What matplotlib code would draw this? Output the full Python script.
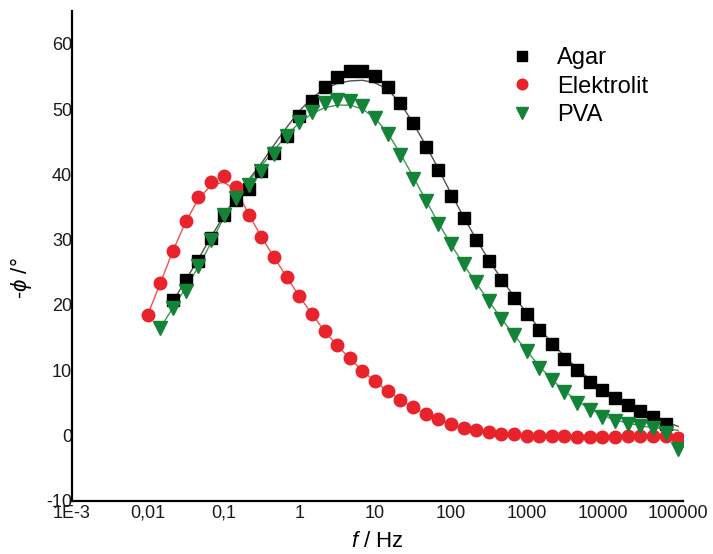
import numpy as np
import matplotlib.pyplot as plt

plt.rcParams['font.family'] = ['Liberation Sans', 'DejaVu Sans']
plt.rcParams['mathtext.fontset'] = 'custom'
plt.rcParams['mathtext.rm'] = 'Liberation Sans'
plt.rcParams['mathtext.it'] = 'Liberation Sans:italic'
plt.rcParams['axes.unicode_minus'] = False

# frequencies, 6 points per decade, 0.01 Hz .. 100 kHz
freq = [0.01, 0.0147, 0.0215, 0.0316, 0.0464, 0.0681,
        0.1, 0.147, 0.215, 0.316, 0.464, 0.681,
        1, 1.47, 2.15, 3.16, 4.64, 6.81,
        10, 14.7, 21.5, 31.6, 46.4, 68.1,
        100, 147, 215, 316, 464, 681,
        1000, 1470, 2150, 3160, 4640, 6810,
        10000, 14700, 21500, 31600, 46400, 68100,
        100000]

# Agar: idx 2..41 measured, fit 2..42
agar = [20.7, 23.8, 26.8, 30.2, 33.7, 36.0, 37.8, 40.5, 43.3, 45.9,
        48.9, 51.3, 53.4, 54.9, 55.8, 55.8, 55.1, 53.3, 50.9, 47.8,
        44.2, 40.6, 36.7, 33.3, 29.9, 26.7, 23.8, 21.1, 18.6, 16.1,
        14.0, 11.7, 10.0, 8.2, 6.9, 5.7, 4.6, 3.7, 2.9, 1.7]
agar_fit = [20.5, 23.8, 27.0, 30.4, 33.6, 36.6, 39.2, 41.7, 44.5, 47.2,
            49.7, 51.7, 53.1, 53.9, 54.3, 54.4, 54.0, 53.0, 50.9, 47.9,
            44.5, 40.9, 37.1, 33.5, 30.1, 26.9, 24.0, 21.3, 18.8, 16.4,
            14.2, 12.1, 10.3, 8.6, 7.2, 5.9, 4.8, 3.8, 2.9, 2.1, 1.4]

# Elektrolit: idx 0..42
elektrolit = [18.5, 23.4, 28.3, 32.9, 36.6, 38.9, 39.8, 38.0, 33.7, 30.4,
              27.3, 24.3, 21.3, 18.6, 16.0, 13.8, 11.8, 9.9, 8.3, 6.8,
              5.5, 4.3, 3.3, 2.5, 1.8, 1.1, 0.8, 0.5, 0.3, 0.2,
              -0.1, 0.0, 0.0, -0.1, -0.2, -0.3, -0.2, -0.2, -0.1, -0.1,
              -0.1, -0.1, -0.4]
elektrolit_fit = [18.5, 23.4, 28.3, 32.7, 36.2, 38.3, 38.8, 37.6, 33.9, 30.4,
                  27.3, 24.3, 21.3, 18.6, 16.0, 13.8, 11.8, 9.9, 8.3, 6.8,
                  5.5, 4.3, 3.3, 2.5, 1.8, 1.1, 0.8, 0.5, 0.3, 0.2,
                  0.0, 0.0, 0.0, -0.1, -0.2, -0.2, -0.2, -0.2, -0.1, -0.1,
                  -0.1, -0.1, -0.3]

# PVA: idx 1..42
pva = [16.4, 19.5, 22.1, 26.0, 29.9, 33.7, 36.3, 38.4, 40.5, 43.1,
       45.8, 48.0, 49.6, 50.9, 51.4, 51.3, 50.5, 48.7, 46.2, 42.9,
       39.3, 35.9, 32.4, 29.3, 26.2, 23.5, 20.6, 17.8, 15.4, 13.0,
       10.4, 8.5, 6.6, 5.0, 3.9, 2.8, 2.2, 1.8, 1.5, 1.2,
       0.4, -2.0]
pva_fit = [16.5, 19.6, 22.6, 25.8, 29.5, 33.3, 36.4, 38.9, 41.3, 43.7,
           46.0, 47.9, 49.3, 50.2, 50.6, 50.6, 50.0, 48.6, 46.3, 43.2,
           39.7, 36.1, 32.6, 29.3, 26.2, 23.4, 20.6, 17.9, 15.4, 13.0,
           10.6, 8.6, 6.8, 5.3, 4.1, 3.1, 2.4, 1.9, 1.5, 1.2,
           1.0, 0.8]

xticks = [1e-3, 1e-2, 1e-1, 1, 10, 100, 1000, 10000, 100000]
xticklabels = ['1E-3', '0,01', '0,1', '1', '10', '100', '1000', '10000', '100000']
yticks = [-10, 0, 10, 20, 30, 40, 50, 60]

red = '#e8232b'
green = '#138437'

fig = plt.figure(figsize=(7.13, 5.54), dpi=100)
ax = fig.add_axes([0.101, 0.096, 0.857, 0.884])

f = np.array(freq)
# fit lines
ax.plot(f[2:43], agar_fit, color='#505050', lw=1.0, zorder=2)
ax.plot(f, elektrolit_fit, color='#f05050', lw=1.0, zorder=2)
ax.plot(f[1:43], pva_fit, color='#3d9a50', lw=1.0, zorder=2)
# measured points
ax.plot(f[2:42], agar, 's', color='black', ms=8.5, ls='none', label='Agar', zorder=3)
ax.plot(f, elektrolit, 'o', color=red, ms=9, ls='none', label='Elektrolit', zorder=3)
ax.plot(f[1:43], pva, 'v', color=green, ms=10, ls='none', label='PVA', zorder=3)

ax.set_xscale('log')
ax.set_xlim(1e-3, 1.16e5)
ax.set_ylim(-10, 65)
ax.set_xticks(xticks)
ax.set_xticklabels(xticklabels)
ax.minorticks_off()
ax.set_yticks(yticks)
ax.tick_params(length=0, labelsize=13, colors='#1a1a1a')
ax.tick_params(axis='x', pad=3)
ax.tick_params(axis='y', pad=0)

for s in ['top', 'right']:
    ax.spines[s].set_visible(False)
for s in ['left', 'bottom']:
    ax.spines[s].set_linewidth(1.6)

ax.set_xlabel(r'$f$ / Hz', fontsize=16)
ax.set_ylabel(r'-$\phi$ /°', fontsize=16)
ax.xaxis.set_label_coords(0.5, -0.062)
ax.yaxis.set_label_coords(-0.062, 0.455)

leg = ax.legend(loc='upper left', bbox_to_anchor=(0.682, 0.97), frameon=False,
                fontsize=17, handlelength=1.0, handletextpad=1.0,
                labelspacing=0.28, markerscale=0.85)

fig.savefig('out.png', dpi=100)
